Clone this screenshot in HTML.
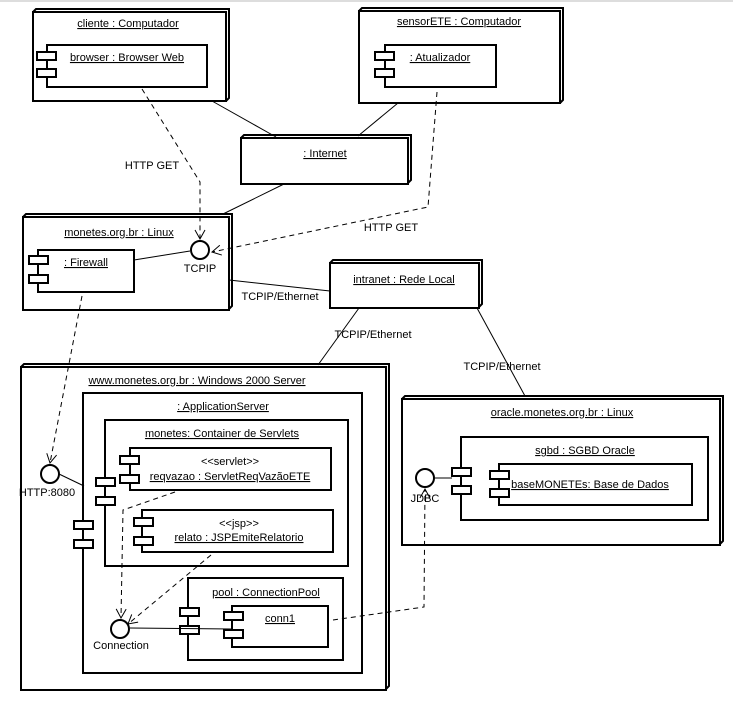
<!DOCTYPE html>
<html><head><meta charset="utf-8"><style>
html,body{margin:0;padding:0;background:#fff;}
svg{display:block;font-family:"Liberation Sans",sans-serif;}
text{font-size:11px;fill:#000;}
</style></head><body>
<svg width="733" height="701" viewBox="0 0 733 701" xmlns="http://www.w3.org/2000/svg">
<defs>
<marker id="oa" markerWidth="12" markerHeight="12" refX="10" refY="6" orient="auto" markerUnits="userSpaceOnUse">
<path d="M1,1 L10,6 L1,11" fill="none" stroke="#000" stroke-width="1"/></marker>
</defs>
<rect x="0" y="0" width="733" height="2" fill="#ddd"/>
<g fill="none" stroke="#000">
<g stroke-width="2">
<path d="M33,12 l3,-3 h193 v89 l-3,3"/><rect x="33" y="12" width="193" height="89" fill="#fff"/>
<path d="M359,11 l3,-3 h201 v92 l-3,3"/><rect x="359" y="11" width="201" height="92" fill="#fff"/>
<path d="M241,138 l3,-3 h167 v45 l-3,3"/><rect x="241" y="138" width="167" height="46" fill="#fff"/>
<path d="M23,217 l3,-3 h206 v92 l-3,3"/><rect x="23" y="217" width="206" height="93" fill="#fff"/>
<path d="M330,263 l3,-3 h149 v44 l-3,3"/><rect x="330" y="263" width="149" height="45" fill="#fff"/>
<path d="M21,367 l3,-3 h365 v322 l-3,3"/><rect x="21" y="367" width="365" height="323" fill="#fff"/>
<path d="M402,399 l3,-3 h318 v145 l-3,3"/><rect x="402" y="399" width="318" height="146" fill="#fff"/>
</g>
<g stroke-width="2">
<rect x="47" y="45" width="160" height="42"/><rect x="37" y="52" width="19" height="8" fill="#fff"/><rect x="37" y="69" width="19" height="8" fill="#fff"/>
<rect x="385" y="45" width="111" height="42"/><rect x="375" y="52" width="19" height="8" fill="#fff"/><rect x="375" y="69" width="19" height="8" fill="#fff"/>
<rect x="38" y="250" width="96" height="42"/><rect x="29" y="256" width="19" height="8" fill="#fff"/><rect x="29" y="275" width="19" height="8" fill="#fff"/>
<rect x="83" y="393" width="279" height="280"/><rect x="74" y="521" width="19" height="8" fill="#fff"/><rect x="74" y="540" width="19" height="8" fill="#fff"/>
<rect x="105" y="420" width="243" height="146"/><rect x="96" y="478" width="19" height="8" fill="#fff"/><rect x="96" y="497" width="19" height="8" fill="#fff"/>
<rect x="130" y="448" width="201" height="42"/><rect x="120" y="456" width="19" height="8" fill="#fff"/><rect x="120" y="475" width="19" height="8" fill="#fff"/>
<rect x="142" y="510" width="191" height="42"/><rect x="134" y="518" width="19" height="8" fill="#fff"/><rect x="134" y="537" width="19" height="8" fill="#fff"/>
<rect x="188" y="578" width="155" height="82"/><rect x="180" y="608" width="19" height="8" fill="#fff"/><rect x="180" y="626" width="19" height="8" fill="#fff"/>
<rect x="232" y="606" width="96" height="41"/><rect x="224" y="612" width="19" height="8" fill="#fff"/><rect x="224" y="630" width="19" height="8" fill="#fff"/>
<rect x="461" y="437" width="247" height="83"/><rect x="452" y="468" width="19" height="8" fill="#fff"/><rect x="452" y="486" width="19" height="8" fill="#fff"/>
<rect x="499" y="464" width="193" height="41"/><rect x="490" y="471" width="19" height="8" fill="#fff"/><rect x="490" y="489" width="19" height="8" fill="#fff"/>
</g>
<g stroke-width="1">
<line x1="212" y1="101" x2="276" y2="137"/>
<line x1="398" y1="103" x2="358" y2="136"/>
<line x1="284" y1="184" x2="223" y2="214"/>
<line x1="229" y1="280" x2="330" y2="291"/>
<line x1="359" y1="308" x2="318" y2="365"/>
<line x1="477" y1="308" x2="525" y2="396"/>
<line x1="134" y1="260" x2="190" y2="251"/>
<line x1="59" y1="474" x2="84" y2="486"/>
<line x1="130" y1="628" x2="232" y2="629"/>
<line x1="435" y1="478" x2="452" y2="478"/>
</g>
<g stroke-width="2" fill="#fff">
<circle cx="200" cy="250" r="9"/>
<circle cx="50" cy="474" r="9"/>
<circle cx="120" cy="629" r="9"/>
<circle cx="425" cy="478" r="9"/>
</g>
<g stroke-width="1" stroke-dasharray="5,4">
<polyline points="142,89 200,182 200,239" marker-end="url(#oa)"/>
<polyline points="437,92 428,207 212,252" marker-end="url(#oa)"/>
<polyline points="82,296 50,463" marker-end="url(#oa)"/>
<polyline points="175,492 123,510 121,618" marker-end="url(#oa)"/>
<polyline points="211,555 128,624" marker-end="url(#oa)"/>
<polyline points="333,620 424,607 425,489" marker-end="url(#oa)"/>
</g>
</g>
<text x="562" y="416" text-anchor="middle" text-decoration="underline">oracle.monetes.org.br : Linux</text>
<text x="585" y="454" text-anchor="middle" text-decoration="underline">sgbd : SGBD Oracle</text>
<text x="590" y="488" text-anchor="middle" text-decoration="underline">baseMONETEs: Base de Dados</text>
<g text-anchor="middle">
<text x="128" y="27" text-decoration="underline">cliente : Computador</text>
<text x="127" y="61" text-decoration="underline">browser : Browser Web</text>
<text x="459" y="25" text-decoration="underline">sensorETE : Computador</text>
<text x="440" y="61" text-decoration="underline">: Atualizador</text>
<text x="325" y="157" text-decoration="underline">: Internet</text>
<text x="119" y="236" text-decoration="underline">monetes.org.br : Linux</text>
<text x="86" y="266" text-decoration="underline">: Firewall</text>
<text x="200" y="272">TCPIP</text>
<text x="404" y="283" text-decoration="underline">intranet : Rede Local</text>
<text x="197" y="384" text-decoration="underline">www.monetes.org.br : Windows 2000 Server</text>
<text x="223" y="410" text-decoration="underline">: ApplicationServer</text>
<text x="222" y="437" text-decoration="underline">monetes: Container de Servlets</text>
<text x="230" y="465" font-size="10">&lt;&lt;servlet&gt;&gt;</text>
<text x="230" y="480" text-decoration="underline">reqvazao : ServletReqVazãoETE</text>
<text x="239" y="527" font-size="10">&lt;&lt;jsp&gt;&gt;</text>
<text x="239" y="541" text-decoration="underline">relato : JSPEmiteRelatorio</text>
<text x="266" y="596" text-decoration="underline">pool : ConnectionPool</text>
<text x="280" y="622" text-decoration="underline">conn1</text>
<text x="121" y="649">Connection</text>
<text x="47" y="496">HTTP:8080</text>
<text x="425" y="502">JDBC</text>
<text x="152" y="169">HTTP GET</text>
<text x="391" y="231">HTTP GET</text>
<text x="280" y="300">TCPIP/Ethernet</text>
<text x="373" y="338">TCPIP/Ethernet</text>
<text x="502" y="370">TCPIP/Ethernet</text>
</g>
</svg>
</body></html>
